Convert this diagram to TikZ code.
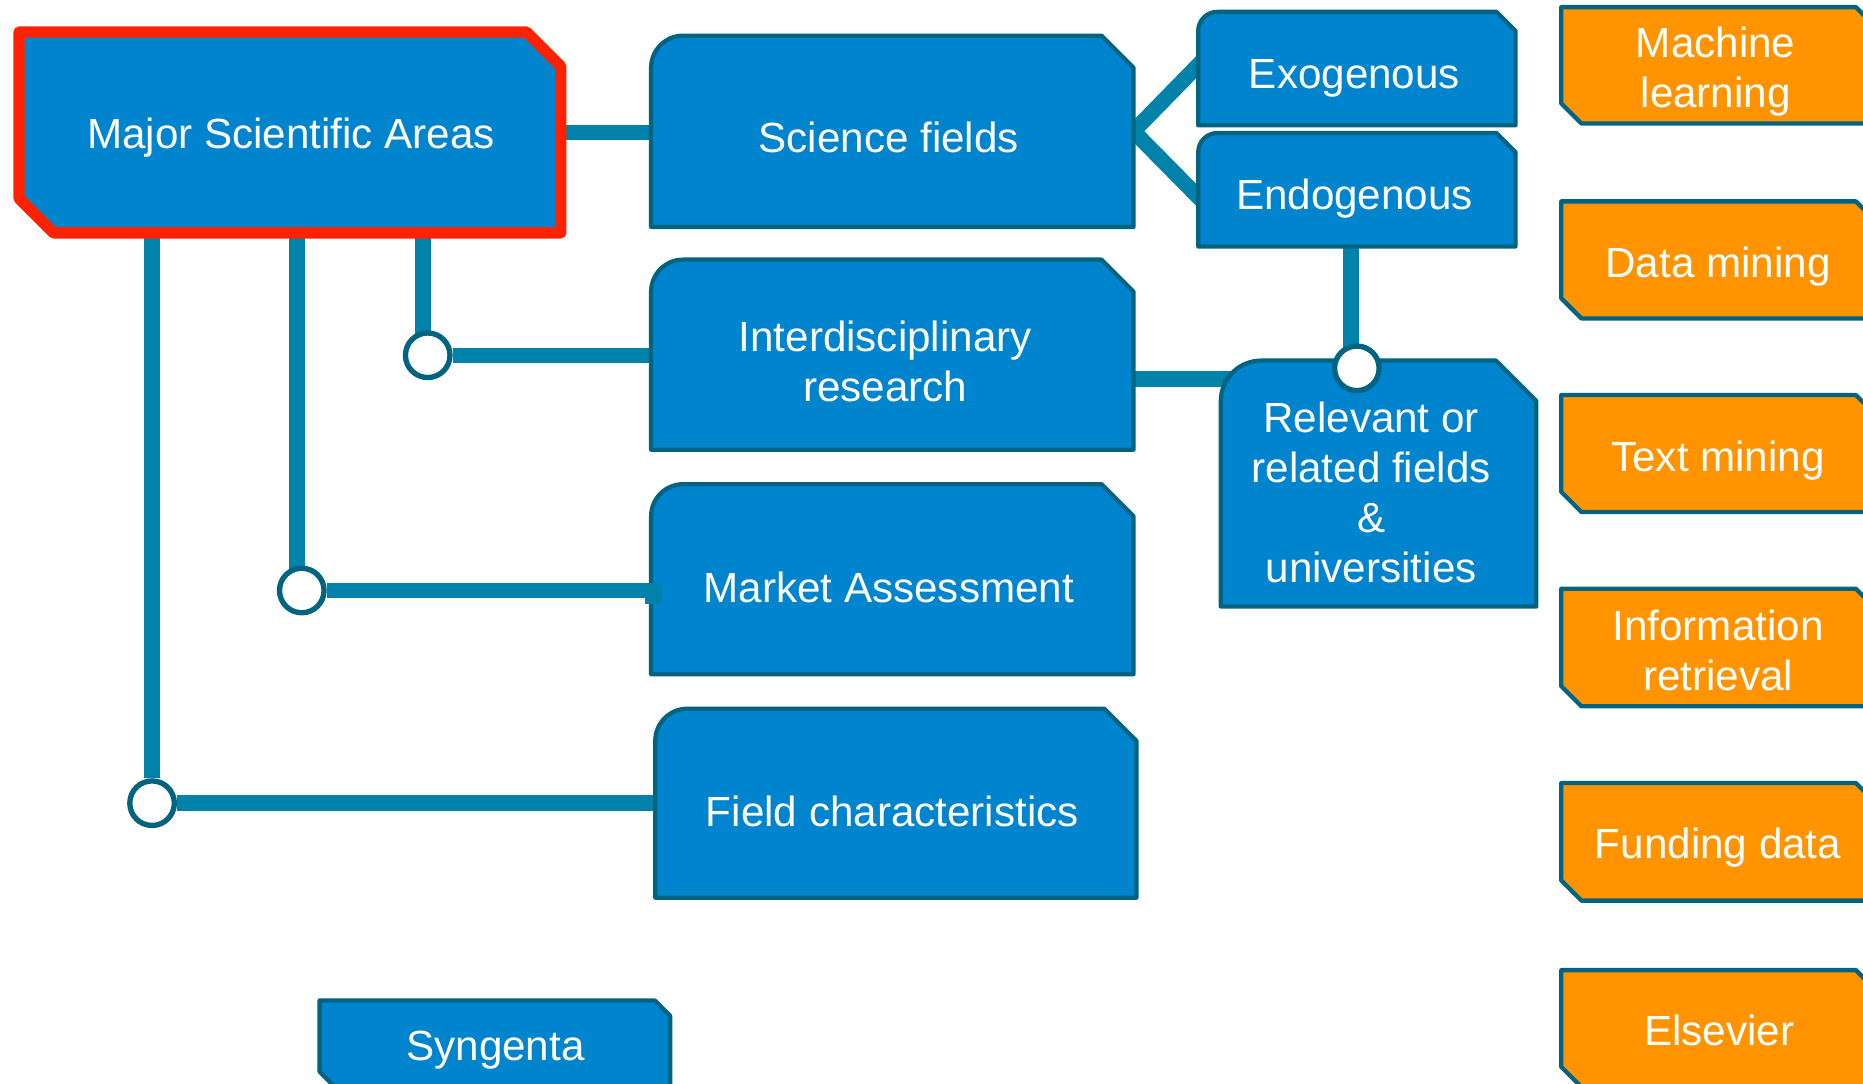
\documentclass[tikz,border=0pt]{standalone}
\usepackage{fontspec}
\setmainfont{Liberation Sans}
\usetikzlibrary{calc}
\definecolor{boxblue}{HTML}{0084CE}
\definecolor{boxedge}{HTML}{006480}
\definecolor{connteal}{HTML}{0082AA}
\definecolor{boxorange}{HTML}{FF9400}
\definecolor{hired}{HTML}{FF2200}
\pgfdeclarelayer{bg}\pgfdeclarelayer{lines}\pgfdeclarelayer{boxes}\pgfdeclarelayer{top}
\pgfsetlayers{bg,lines,boxes,main,top}
\tikzset{
  bluebox/.style={fill=boxblue, draw=boxedge, line width=3.6pt, line join=round},
  orangebox/.style={fill=boxorange, draw=boxedge, line width=3.6pt, line join=round},
  keybox/.style={fill=boxblue, draw=hired, line width=9.5pt, line join=round},
  frame/.style={inner sep=0pt, outer sep=0pt, draw=none, fill=none},
  lbl/.style={text=white, font=\fontsize{35.5}{42}\selectfont, align=center, inner sep=0pt},
  conn/.style={draw=connteal, line width=13pt},
  dot/.style={circle, fill=white, draw=boxedge, line width=4.5pt, minimum size=37.5pt, inner sep=0pt},
}
% box with rounded top-left and snipped top-right corner
\newcommand\rsbox[9]{%
  \begin{pgfonlayer}{boxes}
  \path[#1] (#3,#6) -- (#3,#4+#7) .. controls (#3,#4+0.448*#7) and (#3+0.448*#7,#4) .. (#3+#7,#4)
     -- (#5-#7,#4) -- (#5,#4+#7) -- (#5,#6) -- cycle;
  \end{pgfonlayer}
  \node[frame, minimum width={#5-#3}, minimum height={#6-#4}] (#2) at ({(#3+#5)/2},{(#4+#6)/2}) {};
  \node[lbl] (#2-t) at (#8) {#9};
}
% box with snipped top-right and bottom-left corners
\newcommand\sdbox[9]{%
  \begin{pgfonlayer}{boxes}
  \path[#1] (#3,#4) -- (#5-#7,#4) -- (#5,#4+#7) -- (#5,#6) -- (#3+#7,#6) -- (#3,#6-#7) -- cycle;
  \end{pgfonlayer}
  \node[frame, minimum width={#5-#3}, minimum height={#6-#4}] (#2) at ({(#3+#5)/2},{(#4+#6)/2}) {};
  \node[lbl] (#2-t) at (#8) {#9};
}
\begin{document}
\begin{tikzpicture}[x=1pt,y=-1pt]
\begin{pgfonlayer}{bg}
  \fill[white] (0,0) rectangle (1568,912);
\end{pgfonlayer}

% boxes
\sdbox{keybox}{maj}{16}{27}{472}{196}{29}{245,116.3}{\strut Major Scientific Areas}
\rsbox{bluebox}{sci}{548}{30}{954}{191}{27}{748,120.3}{\strut Science fields}
\rsbox{bluebox}{inter}{548}{218.5}{954}{378.5}{27}{745,308.8}{\strut Interdisciplinary\\\strut research}
\rsbox{bluebox}{market}{548}{407.5}{954}{567.5}{27}{748,498.3}{\strut Market Assessment}
\rsbox{bluebox}{field}{551.5}{596.5}{956.5}{755.5}{27}{751,687.3}{\strut Field characteristics}
\rsbox{bluebox}{exo}{1008.5}{10}{1275.5}{105.5}{16}{1140,66.3}{\strut Exogenous}
\rsbox{bluebox}{endo}{1008.5}{112}{1275.5}{207.5}{16}{1140,168.3}{\strut Endogenous}
\rsbox{bluebox}{rel}{1027.5}{303.5}{1293}{510.5}{34}{1154,419}{\strut Relevant or\\\strut related fields\\\strut \&\\\strut universities}
\sdbox{orangebox}{ml}{1314}{6}{1579}{104}{17}{1444,61.3}{\strut Machine\\\strut learning}
\sdbox{orangebox}{dm}{1314}{169.5}{1579}{268}{17}{1446,225.3}{\strut Data mining}
\sdbox{orangebox}{tm}{1314}{332.5}{1579}{431}{17}{1446,388.3}{\strut Text mining}
\sdbox{orangebox}{ir}{1314}{495.5}{1579}{594.5}{17}{1446,551.8}{\strut Information\\\strut retrieval}
\sdbox{orangebox}{fd}{1314}{659}{1579}{758}{17}{1446,714.3}{\strut Funding data}
\sdbox{orangebox}{el}{1314}{816.5}{1579}{915}{17}{1447,871.3}{\strut Elsevier}
\sdbox{bluebox}{syn}{269}{842}{564}{915}{13}{417,884.3}{\strut Syngenta}

% junction circles
\begin{pgfonlayer}{top}
  \node[dot] (c1) at (360,299) {};
  \node[dot] (c2) at (254,497) {};
  \node[dot] (c3) at (128,676) {};
  \node[dot] (c4) at (1142,310) {};
\end{pgfonlayer}

% connectors
\begin{pgfonlayer}{lines}
  \draw[conn] (maj.east) -- (maj.east -| sci.center);
  \draw[conn] ([xshift=-4pt]c1.center |- maj.center) -- ([xshift=-4pt]c1.center);
  \draw[conn] (c1) -- (c1 -| inter.center);
  \draw[conn] ([xshift=-4pt]c2.center |- maj.center) -- ([xshift=-4pt]c2.center);
  \draw[conn] (c2) -- (c2 -| market.center);
  \draw[conn] (c3 |- maj.center) -- (c3);
  \draw[conn] (c3) -- (c3 -| field.center);
  \coordinate (br) at (sci.east);
  \coordinate (exoin) at ([yshift=3pt]exo.west);
  \coordinate (endoin) at ([yshift=-6pt]endo.west);
  \draw[conn] ($(exoin)!-12pt!(br)$) -- (br) -- ($(endoin)!-12pt!(br)$);
  \draw[conn] ([xshift=-5pt]c4.center |- endo.center) -- ([xshift=-5pt]c4.center);
  \draw[conn] ([yshift=-20.5pt]inter.east) -- ([yshift=-20.5pt]inter.east -| rel.center);
\end{pgfonlayer}
\begin{pgfonlayer}{top}
  \fill[connteal] ($(c2 -| market.west)+(-5,-6)$) rectangle ($(c2 -| market.west)+(9,11)$);
\end{pgfonlayer}

\pgfresetboundingbox
\useasboundingbox (0,0) rectangle (1568,912);
\end{tikzpicture}
\end{document}
